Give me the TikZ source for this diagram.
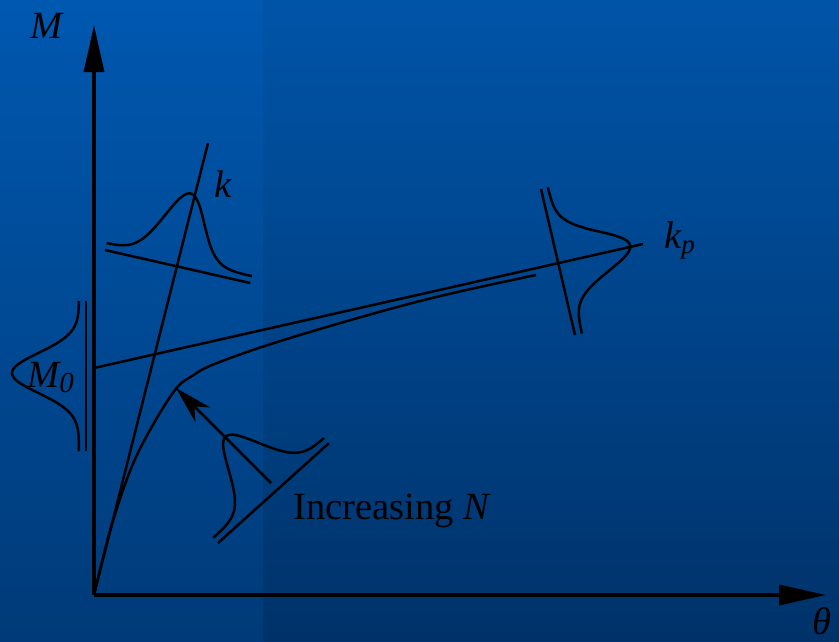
\documentclass[tikz,border=0pt]{standalone}
\usepackage{fontspec}
\setmainfont{Liberation Serif}
\usetikzlibrary{arrows.meta}
\definecolor{bgTL}{RGB}{0,88,176}
\definecolor{bgBL}{RGB}{0,58,120}
\definecolor{bgTR}{RGB}{0,84,168}
\definecolor{bgBR}{RGB}{0,50,105}
\tikzset{
  axisline/.style={line width=3.5pt, -{Triangle[length=47pt,width=20pt]}},
  fineline/.style={line width=2.5pt},
  lbl/.style={inner sep=0pt, anchor=base west, font=\fontsize{38.5}{44}\selectfont\itshape},
}
\begin{document}
\begin{tikzpicture}[x=1pt,y=-1pt]
  \useasboundingbox (0,0) rectangle (839,641);
  \shade[top color=bgTL, bottom color=bgBL] (0,0) rectangle (263,641);
  \shade[top color=bgTR, bottom color=bgBR] (263,0) rectangle (839,641);

  % coordinates
  \coordinate (O) at (94,595);
  \coordinate (Mtop) at (94,25);
  \coordinate (Ttip) at (826,595);
  \coordinate (ktop) at (208,143);
  \coordinate (kpL) at (94,368);
  \coordinate (kpR) at (643,244);
  \coordinate (aS) at (271,483);
  \coordinate (aT) at (176,388);

  % axes
  \draw[axisline] (O) -- (Mtop);
  \draw[axisline] (O) -- (Ttip);

  % lines
  \draw[fineline] (O) -- (ktop);
  \draw[fineline] (kpL) -- (kpR);
  \draw[fineline] plot[smooth, tension=0.6] coordinates
    {(94,595) (110,531) (130,471) (150,430) (175,390) (192,376) (217,363) (290,338) (420,301) (536,275)};

  % gaussian at k
  \begin{scope}[shift={(105,250)}, x={(0.975pt,-0.2215pt)}, y={(0.2215pt,0.975pt)}]
    \draw[fineline] (0,0) -- (149,0);
    \draw[fineline] plot[domain=0:149, samples=90, smooth] (\x,{7+67*exp(-((\x-71)^2)/800)});
  \end{scope}

  % gaussian at M0
  \begin{scope}[shift={(86,451)}, x={(0pt,1pt)}, y={(-1pt,0pt)}]
    \draw[fineline] (0,0) -- (150,0);
    \draw[fineline] plot[domain=0:150, samples=90, smooth] (\x,{7+67*exp(-((\x-78)^2)/800)});
  \end{scope}

  % gaussian at kp
  \begin{scope}[shift={(541,189)}, x={(0.2267pt,-0.974pt)}, y={(0.974pt,0.2267pt)}]
    \draw[fineline] (0,0) -- (150,0);
    \draw[fineline] plot[domain=0:150, samples=90, smooth] (\x,{7+67*exp(-((\x-75)^2)/800)});
  \end{scope}

  % gaussian at increasing N
  \begin{scope}[shift={(218,543)}, x={(0.743pt,0.669pt)}, y={(-0.669pt,0.743pt)}]
    \draw[fineline] (0,0) -- (149,0);
    \draw[fineline] plot[domain=0:149, samples=90, smooth] (\x,{7+67*exp(-((\x-77)^2)/800)});
  \end{scope}

  % arrow
  \draw[fineline, -{Stealth[length=38pt,width=21pt,inset=12pt]}] (aS) -- (aT);

  % labels
  \node[lbl] (lM) at (30,38) {M};
  \node[lbl] (lk) at (214,197) {k};
  \node[lbl] (lkp) at (664,248) {k\raisebox{-5pt}{\fontsize{27}{30}\selectfont p}};
  \node[lbl] (lM0) at (27,387) {M\raisebox{-5pt}{\fontsize{29}{32}\selectfont 0}};
  \node[lbl, font=\fontsize{38.5}{44}\selectfont] (lN) at (293,519) {Increasing \textit{N}};
  \node[lbl] (lt) at (812,634) {θ};
\end{tikzpicture}
\end{document}
